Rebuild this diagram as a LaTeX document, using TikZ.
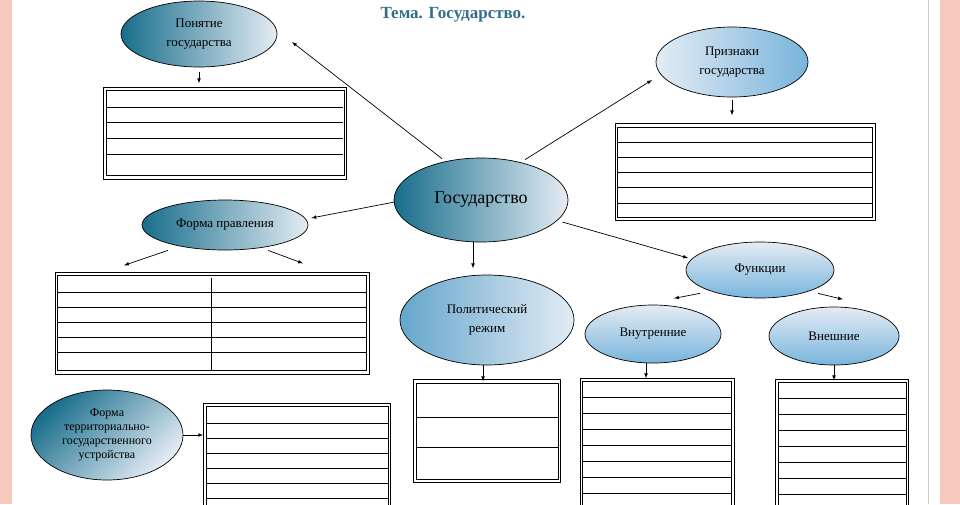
\documentclass[tikz,border=0pt]{standalone}
\usepackage{fontspec}
\setmainfont{Liberation Serif}
\usetikzlibrary{shapes.geometric,positioning}

\definecolor{deep}{RGB}{24,110,140}
\definecolor{sky}{RGB}{120,180,220}
\definecolor{pale}{RGB}{228,236,244}
\definecolor{rim}{RGB}{245,200,188}
\definecolor{titleblue}{RGB}{50,110,140}

\tikzset{
  oval/.style={ellipse,draw,line width=0.7pt,inner sep=0pt,align=center,font=\fontsize{13}{19}\selectfont},
  darkleft/.style={left color=deep,right color=pale},
  lightleft/.style={left color=pale,right color=sky},
  lighttop/.style={top color=pale,bottom color=sky},
  frame/.style={rectangle,draw,inner sep=0pt},
  >=latex
}

\begin{document}
\begin{tikzpicture}[x=1pt,y=-1pt,line width=0.7pt]
   \useasboundingbox (0,0) rectangle (960,504);
   \clip (0,0) rectangle (960,504);
   \fill[rim] (0,0) rectangle (12,504);
   \fill[rim] (940,0) rectangle (960,504);
   \draw[gray!40] (928,0) -- (928,504);
   \node[font=\bfseries\fontsize{17}{19}\selectfont,text=titleblue] (title) at (453,15) {Тема. Государство.};
   % ellipses
   \node[oval,minimum width=174,minimum height=84,font=\fontsize{18}{20}\selectfont,shading angle=45,left color=deep,right color=pale] (state) at (481,200) {Государство};
   \node[oval,darkleft,minimum width=156,minimum height=66] (idea) at (199,34) {Понятие\\государства};
   \node[oval,lightleft,minimum width=152,minimum height=70] (signs) at (732,62) {Признаки\\государства};
   \node[oval,darkleft,minimum width=166,minimum height=50] (rule) at (225,225) {Форма правления};
   \node[oval,left color=sky!80!deep,right color=pale,minimum width=174,minimum height=90] (regime) at (487,320) {Политический\\режим};
   \node[oval,lighttop,minimum width=148,minimum height=56] (func) at (760,270) {Функции};
   \node[oval,lighttop,minimum width=136,minimum height=58] (inner) at (653,334) {Внутренние};
   \node[oval,lighttop,minimum width=130,minimum height=58] (outer) at (834,336) {Внешние};
   \node[oval,darkleft,shading angle=45,minimum width=152,minimum height=90,font=\fontsize{12}{14}\selectfont] (terr) at (107,435) {Форма\\территориально-\\государственного\\устройства};
   % boxes
   \node[frame,minimum width=243,minimum height=92] (b1) at (225,133) {};
   \node[frame,minimum width=260,minimum height=97] (b2) at (745,172) {};
   \node[frame,minimum width=314,minimum height=102] (b3) at (212,323) {};
   \node[frame,minimum width=147,minimum height=103] (b4) at (487,431) {};
   \node[frame,minimum width=154,minimum height=140] (b5) at (657,448) {};
   \node[frame,minimum width=133,minimum height=140] (b6) at (842,449) {};
   \node[frame,minimum width=187,minimum height=130] (b7) at (297,468) {};
   \foreach \b in {b1,b2,b3,b4,b5,b6,b7}
     \draw ([shift={(3pt,-4pt)}]\b.north west) rectangle ([shift={(-3pt,4pt)}]\b.south east);
   % rows
   \foreach \y in {107,122,138,154} \draw (106,\y) -- (343,\y);
   \foreach \y in {142,157,172,187,203} \draw (618,\y) -- (872,\y);
   \foreach \y in {292,307,322,337,352} \draw (58,\y) -- (366,\y);
   \draw (211,278) -- (211,370);
   \foreach \y in {417,447} \draw (416,\y) -- (558,\y);
   \foreach \y in {397,413,429,445,461,477,493} \draw (583,\y) -- (731,\y);
   \foreach \y in {398,414,430,446,462,478,494} \draw (778,\y) -- (906,\y);
   \foreach \y in {423,438,453,468,483,498} \draw (207,\y) -- (388,\y);
   % arrows
   \draw[->] ([shift={(-39pt,-1pt)}]state.north) -- ([shift={(93pt,-8pt)}]idea.center);
   \draw[->] ([shift={(44pt,-2pt)}]state.north) -- ([shift={(-80pt,-18pt)}]signs.center);
   \draw[->] ([shift={(1pt,-2pt)}]state.west) -- ([shift={(3pt,7pt)}]rule.east);
   \draw[->] ([xshift=-8pt]state.south) -- ([xshift=-8pt,yshift=-26pt]state.south);
   \draw[->] ([shift={(-6pt,-22pt)}]state.east) -- ([shift={(-72pt,12pt)}]func.center);
   \draw[->] ([yshift=-5pt]idea.south) -- ([yshift=-16pt]idea.south);
   \draw[->] ([yshift=-3pt]signs.south) -- ([yshift=-18pt]signs.south);
   \draw[->] ([xshift=-57pt]rule.south) -- ([xshift=-101pt,yshift=-15pt]rule.south);
   \draw[->] ([xshift=43pt]rule.south) -- ([xshift=78pt,yshift=-13pt]rule.south);
   \draw[->] ([xshift=-4pt]regime.south) -- ([xshift=-4pt,yshift=-16pt]regime.south);
   \draw[->] ([xshift=-60pt,yshift=5pt]func.south) -- ([xshift=-86pt]func.south);
   \draw[->] ([xshift=58pt,yshift=5pt]func.south) -- ([xshift=83pt,yshift=-1pt]func.south);
   \draw[->] ([xshift=-7pt]inner.south) -- ([xshift=-7pt,yshift=-15pt]inner.south);
   \draw[->] (outer.south) -- ([yshift=-15pt]outer.south);
   \draw[->] (terr.east) -- (b7.west |- terr.east);
\end{tikzpicture}
\end{document}
